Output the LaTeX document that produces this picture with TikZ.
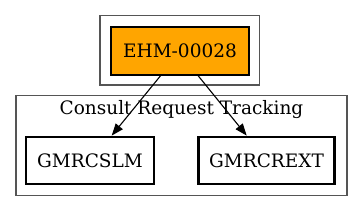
\documentclass[tikz,border=0pt]{standalone}
\usepackage{fontspec}
\setmainfont{DejaVu Serif}
\usetikzlibrary{arrows.meta}
\definecolor{gvorange}{HTML}{FFA500}
\definecolor{gvgray}{HTML}{555555}
\begin{document}
\begin{tikzpicture}[x=1pt,y=-1pt,
  lblfont/.style={font=\fontsize{18.5}{21}\selectfont},
  cluster/.style={draw=gvgray, line width=1.4pt},
  box/.style={draw=black, line width=2.8pt, minimum width=128pt, minimum height=47pt, inner sep=0pt, lblfont},
  edge/.style={draw=black, line width=1.1pt, -{Triangle[length=12pt,width=9pt]}}]
\useasboundingbox (0,0) rectangle (363,212);
\draw[cluster] (100,15.5) rectangle (259.5,85);
\draw[cluster] (16,95.5) rectangle (347,195.5);
\node[lblfont] (lbl) at (181.5,110) {Consult Request Tracking};
\node[draw=black, fill=gvorange, line width=1.1pt, minimum width=138pt, minimum height=48pt, inner sep=0pt, lblfont] (ehm) at (180,51) {EHM-00028};
\node[box] (a) at (90,160.5) {GMRCSLM};
\node[box, minimum width=136pt] (b) at (266.5,160.5) {GMRCREXT};
\draw[edge] (ehm.south -| 160.7,0) -- (a.north -| 111.7,0);
\draw[edge] (ehm.south -| 198,0) -- (b.north -| 246.7,0);
\end{tikzpicture}
\end{document}
